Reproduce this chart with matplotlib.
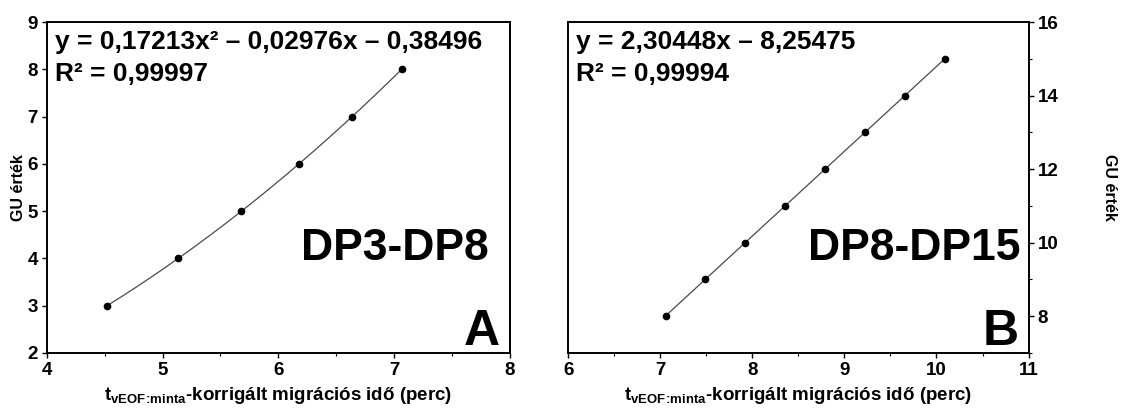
"""
GU calibration curves for the two DP ranges (panels A and B).
"""
import numpy as np
import matplotlib
matplotlib.use('Agg')
import matplotlib.pyplot as plt
from matplotlib.ticker import MultipleLocator

plt.rcParams['font.family'] = ['Liberation Sans', 'DejaVu Sans']
plt.rcParams['font.weight'] = 'bold'
plt.rcParams['mathtext.fontset'] = 'custom'
plt.rcParams['mathtext.rm'] = 'Liberation Sans:bold'
plt.rcParams['mathtext.bf'] = 'Liberation Sans:bold'

# Panel A: DP3-DP8
time_a = [4.52, 5.135, 5.68, 6.18, 6.637, 7.066]
gu_a = [3, 4, 5, 6, 7, 8]
eq_a = 'y = 0,17213x² – 0,02976x – 0,38496\nR² = 0,99997'

# Panel B: DP8-DP15
time_b = [7.06, 7.485, 7.92, 8.356, 8.79, 9.222, 9.658, 10.09]
gu_b = [8, 9, 10, 11, 12, 13, 14, 15]
eq_b = 'y = 2,30448x – 8,25475\nR² = 0,99994'

xlabel = r't$\mathrm{_{vEOF\!:\!minta}}$-korrigált migrációs idő (perc)'
ylabel = 'GU érték'


def drawPanel(ax, xs, ys, deg, eq, name, letter, name_x):
    # Trendline fitted to the points, drawn over the data range only.
    coef = np.polyfit(xs, ys, deg)
    xx = np.linspace(min(xs), max(xs), 200)
    ax.plot(xx, np.polyval(coef, xx), color='#4a4a4a', lw=0.9, zorder=2)
    ax.plot(xs, ys, 'o', color='black', ms=4.5, zorder=3)

    ax.text(0.018, 0.975, eq, transform=ax.transAxes, fontsize=19,
            fontweight='bold', va='top', ha='left', linespacing=1.38)
    ax.text(name_x, 0.28, name, transform=ax.transAxes, fontsize=32,
            fontweight='bold', ha='right', va='baseline')
    ax.text(0.978, 0.025, letter, transform=ax.transAxes, fontsize=36,
            fontweight='bold', ha='right', va='baseline')

    for sp in ax.spines.values():
        sp.set_linewidth(1.4)
    ax.xaxis.set_major_locator(MultipleLocator(1))
    ax.xaxis.set_minor_locator(MultipleLocator(0.5))
    ax.tick_params(which='major', length=3.5, width=1.0, labelsize=13.5,
                   pad=3)
    ax.tick_params(which='minor', length=2.5, width=0.8)
    ax.set_xlabel(xlabel, fontsize=13.5, fontweight='bold', labelpad=4)


def main():
    fig = plt.figure(figsize=(11.26, 4.09), dpi=100)
    ax_a = fig.add_axes([0.0417, 0.137, 0.411, 0.809])
    ax_b = fig.add_axes([0.5045, 0.137, 0.409, 0.809])

    drawPanel(ax_a, time_a, gu_a, 2, eq_a, 'DP3-DP8', 'A', 0.955)
    ax_a.set_xlim(4, 8)
    ax_a.set_ylim(2, 9)
    ax_a.yaxis.set_major_locator(MultipleLocator(1))
    ax_a.set_ylabel(ylabel, fontsize=11.5, fontweight='bold', labelpad=1)

    drawPanel(ax_b, time_b, gu_b, 1, eq_b, 'DP8-DP15', 'B', 0.982)
    ax_b.set_xlim(6, 11)
    ax_b.set_ylim(7, 16)
    ax_b.yaxis.set_major_locator(MultipleLocator(2))
    ax_b.yaxis.set_minor_locator(MultipleLocator(1))
    ax_b.yaxis.tick_right()
    ax_b.yaxis.set_label_position('right')
    ax_b.set_ylabel(ylabel, fontsize=11.5, fontweight='bold', rotation=270,
                    labelpad=42)

    fig.savefig('out.png', dpi=100)


if __name__ == '__main__':
    main()
